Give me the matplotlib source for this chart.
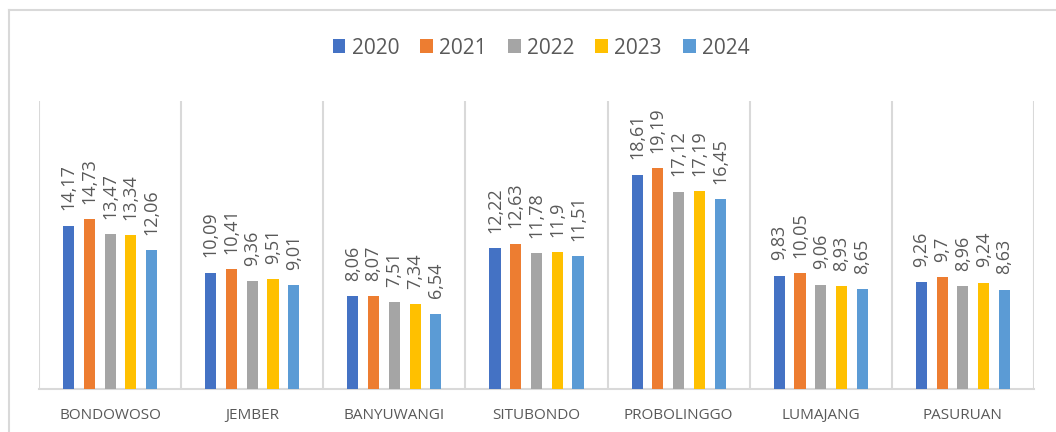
import matplotlib
matplotlib.use("Agg")
import matplotlib.pyplot as plt
from matplotlib.lines import Line2D

kabupaten = ["BONDOWOSO", "JEMBER", "BANYUWANGI", "SITUBONDO",
             "PROBOLINGGO", "LUMAJANG", "PASURUAN"]
tahun = ["2020", "2021", "2022", "2023", "2024"]
v2020 = [14.17, 10.09, 8.06, 12.22, 18.61, 9.83, 9.26]
v2021 = [14.73, 10.41, 8.07, 12.63, 19.19, 10.05, 9.7]
v2022 = [13.47, 9.36, 7.51, 11.78, 17.12, 9.06, 8.96]
v2023 = [13.34, 9.51, 7.34, 11.9, 17.19, 8.93, 9.24]
v2024 = [12.06, 9.01, 6.54, 11.51, 16.45, 8.65, 8.63]
series = [v2020, v2021, v2022, v2023, v2024]
colors = ["#4472C4", "#ED7D31", "#A5A5A5", "#FFC000", "#5B9BD5"]

plt.rcParams['font.family'] = ['Open Sans', 'DejaVu Sans']
W, H = 1056, 432
fig = plt.figure(figsize=(W / 100, H / 100), dpi=100)
ax = fig.add_axes([39 / W, (H - 389) / H, (1034 - 39) / W, (389 - 101) / H])

grey = "#D9D9D9"
txt = "#595959"
step, width = 0.146, 0.078
for j, (vals, c) in enumerate(zip(series, colors)):
    xs = [i + (j - 2) * step for i in range(len(kabupaten))]
    ax.bar(xs, vals, width=width, color=c, label=tahun[j], zorder=3)
    for x, v in zip(xs, vals):
        ax.annotate(str(v).replace('.', ','), (x, v), xytext=(0, 11),
                    textcoords='offset points', rotation=90, ha='center',
                    va='bottom', fontsize=13, color=txt)

ax.set_xlim(-0.5, len(kabupaten) - 0.5)
ax.set_ylim(0, 25)
for k in range(len(kabupaten) + 1):
    ax.axvline(k - 0.5, color=grey, lw=1.5, zorder=1)
for s in ['top', 'right', 'left']:
    ax.spines[s].set_visible(False)
ax.spines['bottom'].set_color(grey)
ax.spines['bottom'].set_linewidth(1.5)
ax.set_yticks([])
ax.set_xticks(range(len(kabupaten)))
ax.set_xticklabels(kabupaten, fontsize=11, color=txt)
ax.tick_params(axis='x', length=0, pad=14)

fig.legend(loc='center', bbox_to_anchor=(541 / W, 1 - 48 / H), ncol=5,
           frameon=False, fontsize=15, handlelength=0.62, handleheight=0.62,
           handletextpad=0.3, columnspacing=1.0, labelcolor=txt)

# chart border (top and left edges visible in crop)
fig.add_artist(Line2D([9 / W, 9 / W], [0, 1 - 10 / H], color=grey, lw=1.5,
                      transform=fig.transFigure))
fig.add_artist(Line2D([9 / W, 1], [1 - 10 / H, 1 - 10 / H], color=grey, lw=1.5,
                      transform=fig.transFigure))

fig.savefig("out.png", dpi=100)
